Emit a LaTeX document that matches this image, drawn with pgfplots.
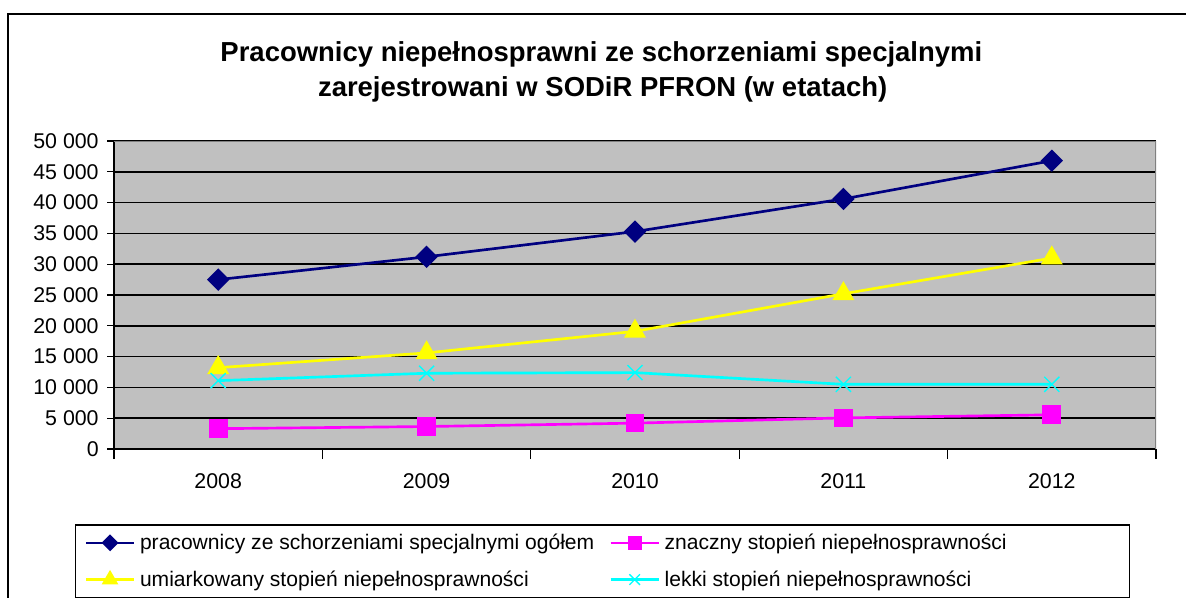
\documentclass[border=0pt]{standalone}
\usepackage{pgfplots}
\pgfplotsset{compat=1.18}
\usepackage{fontspec}
\setmainfont{Liberation Sans}
\definecolor{plotbg}{HTML}{C0C0C0}
\definecolor{sNavy}{HTML}{000080}
\definecolor{sMag}{HTML}{FF00FF}
\definecolor{sYel}{HTML}{FFFF00}
\definecolor{sCyan}{HTML}{00FFFF}
\definecolor{frameGray}{HTML}{808080}
\begin{document}
\begin{tikzpicture}
\path[use as bounding box] (0pt,0pt) rectangle (889.5pt,-447.75pt);
\draw[line width=1.6pt] (6pt,-460pt) -- (6pt,-10.5pt) -- (900pt,-10.5pt);
\node[font=\fontsize{20.6}{24}\selectfont\bfseries, anchor=base, inner sep=0pt] at (451pt,-45.75pt)
  {Pracownicy niepełnosprawni ze schorzeniami specjalnymi};
\node[font=\fontsize{20.6}{24}\selectfont\bfseries, anchor=base, inner sep=0pt] at (452pt,-72pt)
  {zarejestrowani w SODiR PFRON (w etatach)};
\begin{axis}[
  at={(85.5pt,-336.75pt)}, anchor=south west,
  scale only axis, width=781.5pt, height=231pt,
  xmin=-0.5, xmax=4.5, ymin=0, ymax=50000,
  axis background/.style={fill=plotbg},
  axis x line*=bottom, axis y line*=left,
  axis line style={line width=1pt, black, -},
  xtick={0,1,2,3,4},
  xticklabels={2008,2009,2010,2011,2012},
  major x tick style={draw=none},
  minor xtick={-0.5,0.5,1.5,2.5,3.5,4.5},
  minor x tick style={black, line width=1pt},
  minor tick length=7.5pt,
  ytick={0,5000,...,50000},
  major tick length=5pt,
  y tick style={black, line width=1pt},
  tick align=outside,
  scaled y ticks=false,
  ymajorgrids,
  major grid style={black, line width=1.3pt},
  tick label style={font=\fontsize{16}{18}\selectfont},
  /pgf/number format/assume math mode=true,
  /pgf/number format/1000 sep={\ },
  xticklabel style={yshift=-10pt},
  yticklabel style={xshift=-3pt},
  legend columns=2,
  legend cell align=left,
  legend style={at={(-0.0374,-0.2446)}, anchor=north west, draw=black, line width=1pt,
    font=\fontsize{15.8}{18}\selectfont, inner xsep=6.75pt, inner ysep=4.8pt,
    nodes={inner xsep=0pt},
    /tikz/every odd column/.style={column sep=3.5pt},
    /tikz/every even column/.style={column sep=0pt},
    row sep=10.4pt},
  legend image code/.code={\draw[mark repeat=2,mark phase=2,#1,every mark/.append style={scale=0.7}] plot coordinates {(0pt,0pt) (18pt,0pt) (36pt,0pt)};},
]
\addplot[color=sNavy, line width=2pt, mark=diamond*, mark size=7pt, mark options={solid, xscale=1.33}]
  coordinates {(0,27500) (1,31200) (2,35300) (3,40600) (4,46800)};
\addlegendentry{\makebox[352pt][l]{pracownicy ze schorzeniami specjalnymi ogółem}}
\addplot[color=sMag, line width=2pt, mark=square*, mark size=6pt, mark options={solid}]
  coordinates {(0,3300) (1,3650) (2,4200) (3,5050) (4,5550)};
\addlegendentry{\makebox[342pt][l]{znaczny stopień niepełnosprawności}}
\addplot[color=sYel, line width=2pt, mark=triangle*, mark size=7.5pt, mark options={solid}]
  coordinates {(0,13200) (1,15600) (2,19100) (3,25200) (4,31000)};
\addlegendentry{umiarkowany stopień niepełnosprawności}
\addplot[color=sCyan, line width=2pt, mark=x, mark size=8pt, mark options={solid, line width=1pt}]
  coordinates {(0,11100) (1,12300) (2,12400) (3,10500) (4,10500)};
\addlegendentry{lekki stopień niepełnosprawności}
\draw[frameGray, line width=2pt] (rel axis cs:0,1) -- (rel axis cs:1,1) -- (rel axis cs:1,0);
\end{axis}
\end{tikzpicture}
\end{document}
